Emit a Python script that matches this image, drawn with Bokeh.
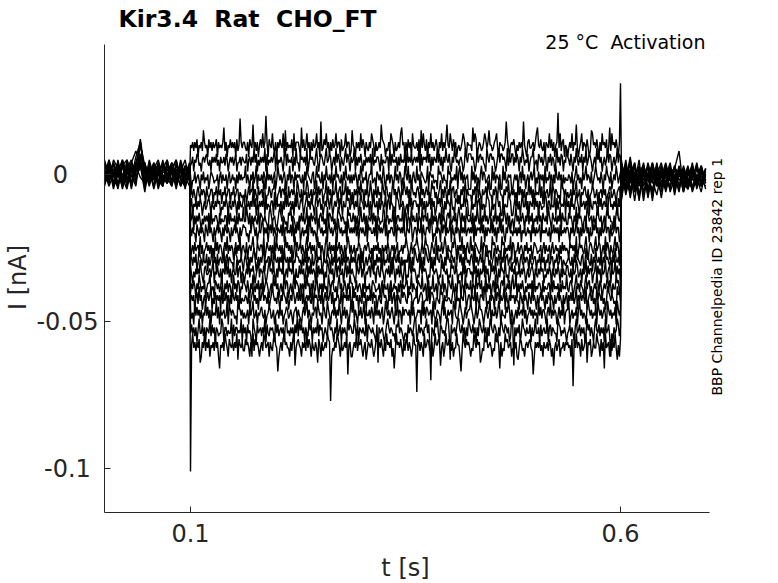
import numpy as np
from bokeh.plotting import figure
from bokeh.models import Label, FixedTicker, ColumnDataSource
from bokeh.embed import file_html
from bokeh.resources import INLINE

# ---------------- data ----------------
# mean current of each sweep during the 0.1-0.6 s step, in pA
sweep_levels_pA = [10, 5, -1, -6, -10, -15, -19, -25, -29, -33, -38, -42, -47, -53, -58]

# step-period noise of each sweep: one digit per sample, digit -> pA via digit_to_pA
digit_to_pA = [-4, -4, -2, -1, -1, 0, 1, 1, 2, 4]
step_01 = ("53627481536247351846273581645374261538473618254736"
           "74261853947261583947261853942716385491726354819267"
           "63174825936172845936172485937162845936718245937612"
           "85317462938517426398517246398751426398517246398571"
           "62847195336281749528163947258316492748153962847135"
           "23698417555236981475236984715523689417552369841575"
           "83152647395216843572691548327165493826157439268153"
           "13749265831479265384127956384172956381472956384172")
step_02 = ("24715386241573684251736482517436285147362581437265"
           "43815726394815273649182537469182537416928354716293"
           "41857362914857326941587326945871362948517326948517"
           "35917264831527463819254673182543761928354617283549"
           "19473825647391826574938162753948261739548216397452"
           "57412963888574129368574219638857412693885741926388"
           "26485173962548137692451873625941738265149372861549"
           "75284163952748163925874136295847136259487136259487")
step_03 = ("61438257316482547138652437158264371582463517284635"
           "59274163825917436285194736258149637258417392651847"
           "57326184975326814957328164953728164957326184953726"
           "26485173962548137692451873625941738265149372861549"
           "73926158429371865423918756243197852634197825364918"
           "94827356111948273516948723561194827536119482375611"
           "47361582936147258369152847361925384716295384617253"
           "36528147936251847936528147963528417396528147396258")
step_04 = ("37264158326475183247615382746153824671538246715324"
           "26138475926318457296134852769314582763941825736419"
           "84261735982461735928467135928461735924681735928461"
           "51736284956173824951637284519637842516937248516397"
           "48261973526841937258461397825146937285164937825614"
           "16385927444163859274163582974416385297441638592474"
           "62519384726153948271635492817356249187365241987362"
           "52461837924615378426135872461357284613587246315782")
step_05 = ("48153726485137246851732648571326485173264851726438"
           "81537264938152746391825437619284537162948357261849"
           "32685147936285417936825147396285147369285174396825"
           "56273814965274381625943718256349178265341987253641"
           "35194827663519482716359284712658394172865392418657"
           "72549386111725493681725439861172549836117254398611"
           "38472615943827165492837165243981762534918276354918"
           "47183526974183562749183265741938256471893526471839")
step_06 = ("35917264831527463819254673182543761928354617283549"
           "34962817546329187546321897456213897465231879465213"
           "16483725916483752914683725194863725149863752419683"
           "38472615943827165492837165243981762534918276354918"
           "81652937448165293764815392746158293741685923748169"
           "62847195336281749528163947258316492748153962847135"
           "15937264851739264815372946185372964185372649185372"
           "28564173928564137298456173289546137289564317289546")
step_07 = ("72634185263741852936417258364172853641725836417258"
           "67241538962714538926471583926417538291674538291647"
           "69137254816937254189637254819637258419637254819637"
           "37492815637429185634729158364792815367429185637492"
           "27539814662753918426753981426375194862735918426375"
           "19473825647391826574938162753948261739548216397452"
           "53627481536247351846273581645374261538473618254736"
           "63174825936172845936172485937162845936718245937612")
step_08 = ("14628357492613584726351948267315849263751482639157"
           "42815637942185367291485362719485362714958362714958"
           "45826317945826371495826317954826371945826317459826"
           "24715386241573684251736482517436285147362581437265"
           "96314825779631482597631485279163482597163428597163"
           "73926158429371865423918756243197852634197825364918"
           "61438257316482547138652437158264371582463517284635"
           "41857362914857326941587326945871362948517326948517")
step_09 = ("56273814965274381625943718256349178265341987253641"
           "58316274895136274891536728419536274819536274815396"
           "73518264937518246937581264397518264935718264937518"
           "47361582936147258369152847361925384716295384617253"
           "53847162985384716298538471629853874162985387461298"
           "48261973526841937258461397825146937285164937825614"
           "37264158326475183247615382746153824671538246715324"
           "57326184975326814957328164953728164957326184953726")
step_10 = ("83152647395216843572691548327165493826157439268153"
           "13749265831479265384127956384172956381472956384172"
           "28374615928374651928374615298374615928734615928374"
           "64215837926415378296451783296415738264951738264159"
           "14296385731429638573142968357314296853714296835714"
           "35194827663519482716359284712658394172865392418657"
           "48153726485137246851732648571326485173264851726438"
           "84261735982461735928467135928461735924681735928461")
step_11 = ("26485173962548137692451873625941738265149372861549"
           "75284163952748163925874136295847136259487136259487"
           "51736284956173824951637284519637842516937248516397"
           "61438257316482547138652437158264371582463517284635"
           "68153927441865392471681539247186539274168539427186"
           "81652937448165293764815392746158293741685923748169"
           "35917264831527463819254673182543761928354617283549"
           "32685147936285417936825147396285147369285174396825")
step_12 = ("47361582936147258369152847361925384716295384617253"
           "36528147936251847936528147963528417396528147396258"
           "37492815637429185634729158364792815367429185637492"
           "29583716429581736492857136429857316492581736429587"
           "42978613559247861335492786315542978163355427981635"
           "27539814662753918426753981426375194862735918426375"
           "72634185263741852936417258364172853641725836417258"
           "16483725916483752914683725194863725149863752419683")
step_13 = ("62519384726153948271635492817356249187365241987362"
           "52461837924615378426135872461357284613587246315782"
           "64215837926415378296451783296415738264951738264159"
           "59274163825917436285194736258149637258417392651847"
           "75361948223756194828735619422753169482273561984227"
           "96314825779631482597631485279163482597163428597163"
           "14628357492613584726351948267315849263751482639157"
           "69137254816937254189637254819637258419637254819637")
step_14 = ("38472615943827165492837165243981762534918276354918"
           "47183526974183562749183265741938256471893526471839"
           "29583716429581736492857136429857316492581736429587"
           "34962817546329187546321897456213897465231879465213"
           "31847526991384752669381475296931874526993184572699"
           "53847162985384716298538471629853874162985387461298"
           "56273814965274381625943718256349178265341987253641"
           "45826317945826371495826317954826371945826317459826")
step_15 = ("15937264851739264815372946185372964185372649185372"
           "28564173928564137298456173289546137289564317289546"
           "85317462938517426398517246398751426398517246398571"
           "13749265831479265384127956384172956381472956384172"
           "86274139555862741935862471395586247139558627143955"
           "14296385731429638573142968357314296853714296835714"
           "24715386241573684251736482517436285147362581437265"
           "73518264937518246937581264397518264935718264937518")

# isolated spikes: sweep number (0-based), sample number, current in pA
spike_sweep = ([0] * 23 + [14] * 23 + [13] * 6)
spike_sample = [46, 70, 293, 341, -1, 12, 31, 58, 88, 103, 121, 150, 177, 196,
                214, 238, 262, 277, 309, 322, 358, 372, 389,
                0, 130, 210, 355, 9, 27, 44, 81, 97, 118, 146, 163, 189, 232,
                251, 269, 287, 304, 318, 337, 368, 384, 396,
                223, 57, 174, 241, 300, 390]
spike_pA = [19, 20, 18, 21, 31, 15, 16, 17, 15, 16, 18, 15, 17, 16,
            15, 17, 16, 15, 18, 16, 17, 15, 16,
            -101, -77, -74, -72, -64, -66, -63, -67, -65, -64, -68, -63, -66, -65,
            -67, -64, -66, -63, -68, -65, -64, -66, -63,
            -70, -62, -64, -63, -65, -62]

# holding-period current before (0-0.1 s) and after (0.6-0.7 s) the step, pA
pre_01 = [2, -3, 4, 0, -4, 3, -1, 6, 11, -2, 3, -4, 1, 4, -3, 2, -5, 3, 0, -2]
pre_02 = [-3, 4, -1, 3, -5, 1, 4, 8, 3, -3, 0, 4, -2, -4, 3, 1, -3, 4, -1, 2]
pre_03 = [4, -2, 1, -5, 3, 5, -3, 2, 12, 1, -4, 2, 5, -1, -3, 4, 0, -4, 2, -1]
pre_04 = [-1, 5, -4, 2, 0, -3, 4, 1, 6, -5, 3, -1, 0, 4, -2, 3, -4, 1, 5, -3]
pre_05 = [3, 0, -3, 5, -2, 4, -5, 3, 2, 4, -2, 1, -3, 2, 5, -4, 2, -1, 3, 0]
pre_06 = [-4, 2, 3, -1, 4, -2, 0, -4, 7, 2, -1, 3, -5, 1, 0, 4, -2, 3, -3, 1]
pre_07 = [1, -4, 0, 4, -3, 2, 5, -1, 3, -6, 4, -2, 2, 0, -3, 1, 5, -2, 0, 4]
pre_08 = [0, 3, -5, 1, 5, -1, -3, 4, 10, 3, 1, -4, 4, -2, 2, -3, 0, 4, -4, 2]
pre_09 = [-2, 1, 4, -3, 0, 3, -4, 2, 5, -2, 4, 0, -3, 5, -1, -4, 3, 1, -2, 4]
pre_10 = [5, -1, 2, -4, 3, -2, 4, 0, 2, 4, -3, 1, 3, -4, 2, 0, -3, 5, -1, -4]
pre_11 = [-3, 2, -1, 4, -4, 5, 1, -3, 11, 0, 2, -5, 1, 3, -2, 4, -1, -3, 3, 1]
pre_12 = [2, 4, -3, 0, 3, -4, 2, 3, -1, -3, 5, -1, 0, -4, 4, 1, -2, 2, -5, 3]
pre_13 = [-1, -3, 5, 2, -2, 1, -3, 4, 6, 3, -2, 4, -4, 2, 0, -3, 4, -1, 2, -2]
pre_14 = [4, 1, -2, -4, 5, 0, 3, -2, 4, -4, 1, 3, 2, -3, 5, -2, 1, -4, 0, 3]
pre_15 = [-2, 5, 0, 3, -1, -5, 2, 1, 7, 2, -3, 0, 4, -1, -3, 2, 5, -2, -4, 1]

post_01 = [3, -6, 1, -9, 2, -4, 0, -7, 3, -2, -5, 1, -3, 2, -6, 0, -1, -4, 2, -3]
post_02 = [-8, 2, -3, 4, -7, 0, -2, -5, 1, -4, 3, -6, -1, 2, -3, -5, 1, -2, -4, 0]
post_03 = [1, -4, 5, -2, -8, 3, -1, -6, 2, 0, -4, 2, -2, -5, 1, -3, 3, -1, -6, 2]
post_04 = [-5, 4, -7, 0, 2, -9, 1, -3, 4, -5, 0, -2, 3, -4, -1, 2, -5, 0, -3, 1]
post_05 = [4, -2, -6, 3, -3, 1, -7, 2, -1, -4, 3, -2, 0, -6, 2, -3, 1, -4, 2, -2]
post_06 = [-9, 1, 3, -5, 0, -3, 4, -2, -7, 1, -1, 4, -5, 0, -2, 3, -4, -1, 1, -5]
post_07 = [2, -7, 0, 4, -4, 2, -8, 1, -2, 3, -6, 0, 2, 8, -5, 1, -2, 4, -3, 0]
post_08 = [-3, 5, -5, -1, 3, -6, 0, 2, -4, 1, -3, 3, -7, 1, 0, -4, 2, -3, 0, -1]
post_09 = [5, -4, 2, -6, 1, 3, -5, -1, 2, -8, 1, -2, -4, 3, -1, -5, 0, 2, -2, -4]
post_10 = [-6, 0, -2, 3, -9, 2, -1, 4, -3, -6, 2, 0, -3, 1, -4, 2, -6, -1, 3, -2]
post_11 = [0, 3, -8, 1, -2, 4, -5, 0, -3, 2, -1, -5, 3, -2, 0, -3, 4, -5, 1, -1]
post_12 = [-4, -1, 4, -6, 2, -2, 3, -8, 0, 4, -3, 1, -6, 2, -3, 0, -1, 3, -4, 2]
post_13 = [2, -5, 1, -3, 5, -7, 0, 3, -4, -1, 4, -2, -3, 0, 2, -5, 1, -2, 3, -3]
post_14 = [-7, 3, -1, -4, 1, 2, -6, 4, -2, 0, -5, 2, 1, -4, 3, -2, -5, 2, -1, 0]
post_15 = [1, -2, 6, -5, -3, 0, 2, -9, 3, -1, 0, -4, 2, 1, -6, 0, 3, -3, -2, 2]

x_ticks = [0.1, 0.6]
x_tick_labels = ["0.1", "0.6"]
y_ticks = [-0.1, -0.05, 0.0]
# labels are centred under one another, as in the original (figure-space padding)
y_tick_labels = ["-0.1\u2008", "-0.05", "0\u2007\u2007"]

title_text = "Kir3.4 \u00a0Rat \u00a0CHO_FT"
subtitle_text = "25 °C \u00a0Activation"
side_text = "BBP Channelpedia ID 23842 rep 1"
x_label = "t [s]"
y_label = "I [nA]"

# ---------------- build the sweeps ----------------
pres = [pre_01, pre_02, pre_03, pre_04, pre_05, pre_06, pre_07, pre_08,
        pre_09, pre_10, pre_11, pre_12, pre_13, pre_14, pre_15]
steps = [step_01, step_02, step_03, step_04, step_05, step_06, step_07, step_08,
         step_09, step_10, step_11, step_12, step_13, step_14, step_15]
posts = [post_01, post_02, post_03, post_04, post_05, post_06, post_07, post_08,
         post_09, post_10, post_11, post_12, post_13, post_14, post_15]

step_pA = []
for lvl, s in zip(sweep_levels_pA, steps):
    step_pA.append([lvl + digit_to_pA[int(c)] for c in s])
for k, n, v in zip(spike_sweep, spike_sample, spike_pA):
    step_pA[k][n] = v

xs, ys = [], []
for pr, st, po in zip(pres, step_pA, posts):
    t = np.concatenate([np.linspace(0.0, 0.099, len(pr)),
                        np.linspace(0.1, 0.6, len(st)),
                        np.linspace(0.601, 0.699, len(po))])
    i_pA = np.array(list(pr) + list(st) + list(po), dtype=float)
    xs.append(t.tolist())
    ys.append((i_pA / 1000.0).tolist())

# ---------------- figure ----------------
FONT = "DejaVu Sans"
AX = "#262626"

# page px -> data: x px = 104 + 860*t ; y px = 174 - 2940*I
def dx(px):
    return (px - 104) / 860.0

def dy(py):
    return (174 - py) / 2940.0

p = figure(frame_width=778, frame_height=583, min_border=0,
           x_range=(dx(0), dx(778)), y_range=(dy(583), dy(0)),
           output_backend="svg", toolbar_location=None)
p.background_fill_color = "white"
p.border_fill_color = "white"
p.outline_line_color = None
p.xgrid.visible = False
p.ygrid.visible = False

src = ColumnDataSource(dict(xs=xs, ys=ys))
p.multi_line("xs", "ys", source=src, line_color="black", line_width=1.4)

p.xaxis.fixed_location = dy(512)
p.yaxis.fixed_location = dx(104)
p.xaxis.ticker = FixedTicker(ticks=x_ticks)
p.xaxis.major_label_overrides = dict(zip(x_ticks, x_tick_labels))
p.yaxis.ticker = FixedTicker(ticks=y_ticks)
p.yaxis.major_label_overrides = dict(zip(y_ticks, y_tick_labels))
p.xaxis.bounds = (dx(104), dx(709))
p.yaxis.bounds = (dy(512), dy(44))
for ax in (p.xaxis, p.yaxis):
    ax.axis_line_color = AX
    ax.axis_line_width = 1
    ax.major_tick_line_color = AX
    ax.major_tick_in = 6
    ax.major_tick_out = 0
    ax.minor_tick_line_color = None
    ax.major_label_text_font = FONT
    ax.major_label_text_font_size = "24px"
    ax.major_label_text_color = AX
p.xaxis.major_label_standoff = 11
p.yaxis.major_label_standoff = 6

p.add_layout(Label(x=dx(118), y=dy(18.5), text=title_text, text_font=FONT,
                   text_font_size="23.5px", text_font_style="bold",
                   text_color="black", text_align="left",
                   text_baseline="middle"))
p.add_layout(Label(x=dx(705), y=dy(41), text=subtitle_text, text_font=FONT,
                   text_font_size="19px", text_color="black",
                   text_align="right", text_baseline="middle"))
p.add_layout(Label(x=dx(716), y=dy(395), text=side_text, text_font=FONT,
                   text_font_size="14px", text_color="black", angle=np.pi / 2,
                   text_align="left", text_baseline="middle"))
p.add_layout(Label(x=dx(405), y=dy(567), text=x_label, text_font=FONT,
                   text_font_size="24px", text_color=AX,
                   text_align="center", text_baseline="middle"))
p.add_layout(Label(x=dx(17), y=dy(277), text=y_label, text_font=FONT,
                   text_font_size="24px", text_color=AX, angle=np.pi / 2,
                   text_align="center", text_baseline="middle"))

open("out.html", "w").write(file_html(p, INLINE))
